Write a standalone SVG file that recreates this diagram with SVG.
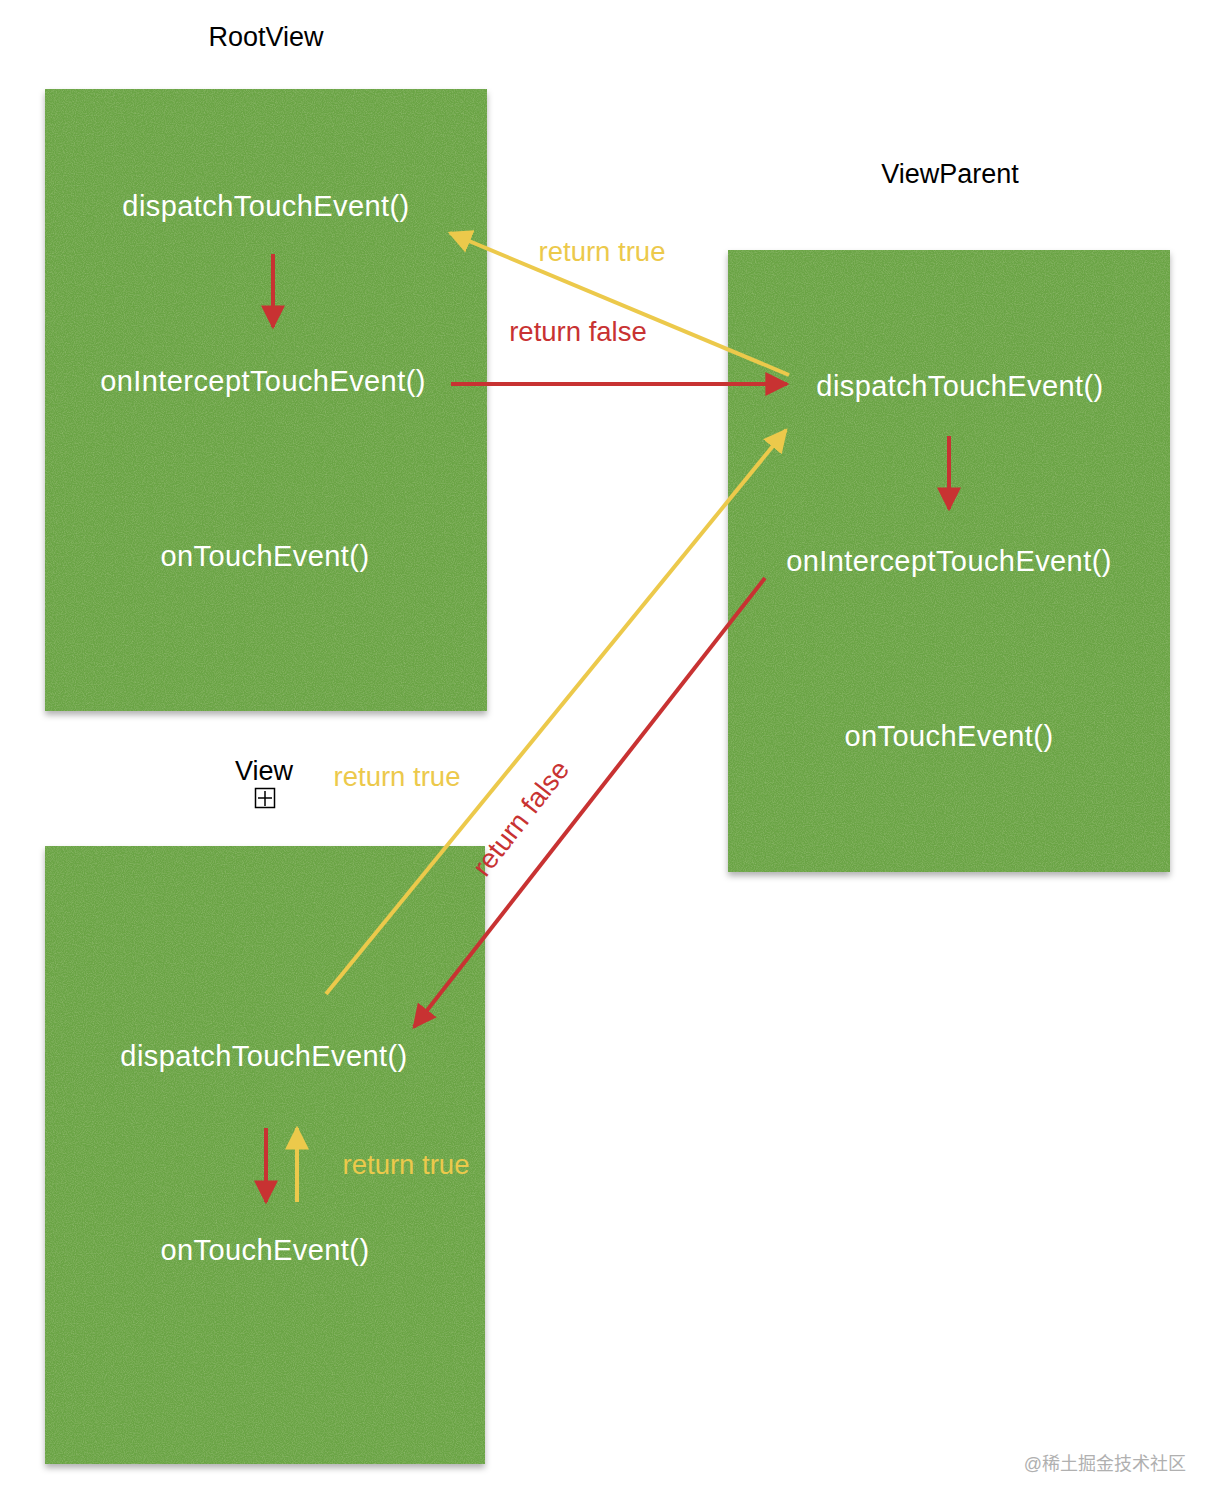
<svg xmlns="http://www.w3.org/2000/svg" width="1222" height="1510" viewBox="0 0 1222 1510">
<style>
.title{font-family:"Liberation Sans",Arial,sans-serif;font-size:27px;fill:#000}
.fn{font-family:"Liberation Sans",Arial,sans-serif;font-size:29px;letter-spacing:0.42px;fill:#ffffff}
.yl{font-family:"Liberation Sans",Arial,sans-serif;font-size:27.5px;fill:#ecc94b}
.rd{font-family:"Liberation Sans",Arial,sans-serif;font-size:27.5px;fill:#c83232}
.box{fill:#6ba445}
.ry{stroke:#ecc94b;stroke-width:4;fill:none}
.rr{stroke:#c83232;stroke-width:4;fill:none}
</style>
<defs>
<filter id="shadow" x="-10%" y="-10%" width="120%" height="120%">
<feDropShadow dx="0" dy="4" stdDeviation="3" flood-color="#000" flood-opacity="0.3"/>
</filter>
<filter id="grain" x="0" y="0" width="100%" height="100%">
<feTurbulence type="fractalNoise" baseFrequency="0.9" numOctaves="2" seed="3" result="n"/>
<feColorMatrix in="n" type="matrix" values="0 0 0 0 0.33  0 0 0 0 0.53  0 0 0 0 0.2  0 0 0 1.2 -0.45" result="c"/>
<feComposite in="c" in2="SourceGraphic" operator="in"/>
</filter>
<marker id="ar" viewBox="0 0 10 10" refX="9" refY="5" markerWidth="6" markerHeight="6" markerUnits="strokeWidth" orient="auto">
<path d="M0,0 L10,5 L0,10 z" fill="#c83232"/>
</marker>
<marker id="ay" viewBox="0 0 10 10" refX="9" refY="5" markerWidth="6" markerHeight="6" markerUnits="strokeWidth" orient="auto">
<path d="M0,0 L10,5 L0,10 z" fill="#ecc94b"/>
</marker>
</defs>
<rect width="1222" height="1510" fill="#ffffff"/>

<g id="rootview">
<text class="title" x="266" y="46" text-anchor="middle">RootView</text>
<rect class="box" x="45" y="89" width="442" height="622" filter="url(#shadow)"/>
<rect x="45" y="89" width="442" height="622" fill="#6ba445" filter="url(#grain)"/>
<text class="fn" x="266" y="216" text-anchor="middle">dispatchTouchEvent()</text>
<text class="fn" x="263" y="391" text-anchor="middle">onInterceptTouchEvent()</text>
<text class="fn" x="265" y="566" text-anchor="middle">onTouchEvent()</text>
</g>

<g id="viewparent">
<text class="title" x="950" y="183" text-anchor="middle">ViewParent</text>
<rect class="box" x="728" y="250" width="442" height="622" filter="url(#shadow)"/>
<rect x="728" y="250" width="442" height="622" fill="#6ba445" filter="url(#grain)"/>
<text class="fn" x="960" y="396" text-anchor="middle">dispatchTouchEvent()</text>
<text class="fn" x="949" y="571" text-anchor="middle">onInterceptTouchEvent()</text>
<text class="fn" x="949" y="746" text-anchor="middle">onTouchEvent()</text>
</g>

<g id="view">
<text class="title" x="264" y="780" text-anchor="middle">View</text>
<rect x="255.5" y="788.5" width="19" height="19" fill="none" stroke="#000" stroke-width="1.5"/>
<path d="M265,791 V806 M258,798 H272" stroke="#000" stroke-width="1.5"/>
<rect class="box" x="45" y="846" width="440" height="618" filter="url(#shadow)"/>
<rect x="45" y="846" width="440" height="618" fill="#6ba445" filter="url(#grain)"/>
<text class="fn" x="264" y="1066" text-anchor="middle">dispatchTouchEvent()</text>
<text class="fn" x="265" y="1260" text-anchor="middle">onTouchEvent()</text>
</g>

<g id="connectors">
<line class="rr" x1="273" y1="254" x2="273" y2="327" marker-end="url(#ar)"/>
<line class="rr" x1="451" y1="384" x2="787" y2="384" marker-end="url(#ar)"/>
<line class="ry" x1="789" y1="375" x2="450" y2="233" marker-end="url(#ay)"/>
<line class="rr" x1="949" y1="436" x2="949" y2="509" marker-end="url(#ar)"/>
<line class="ry" x1="326" y1="994" x2="786" y2="430" marker-end="url(#ay)"/>
<line class="rr" x1="765" y1="578" x2="414" y2="1027" marker-end="url(#ar)"/>
<line class="rr" x1="266" y1="1128" x2="266" y2="1202" marker-end="url(#ar)"/>
<line class="ry" x1="297" y1="1202" x2="297" y2="1128" marker-end="url(#ay)"/>
<text class="yl" x="602" y="261" text-anchor="middle">return true</text>
<text class="rd" x="578" y="341" text-anchor="middle">return false</text>
<text class="yl" x="397" y="786" text-anchor="middle">return true</text>
<text class="rd" x="0" y="0" text-anchor="middle" transform="translate(528,824) rotate(-52)">return false</text>
<text class="yl" x="406" y="1174" text-anchor="middle">return true</text>
</g>

<text x="1186" y="1470" text-anchor="end" font-family="'Liberation Sans','Noto Sans CJK SC',sans-serif" font-size="18" fill="#b0b0b0">@稀土掘金技术社区</text>
</svg>
